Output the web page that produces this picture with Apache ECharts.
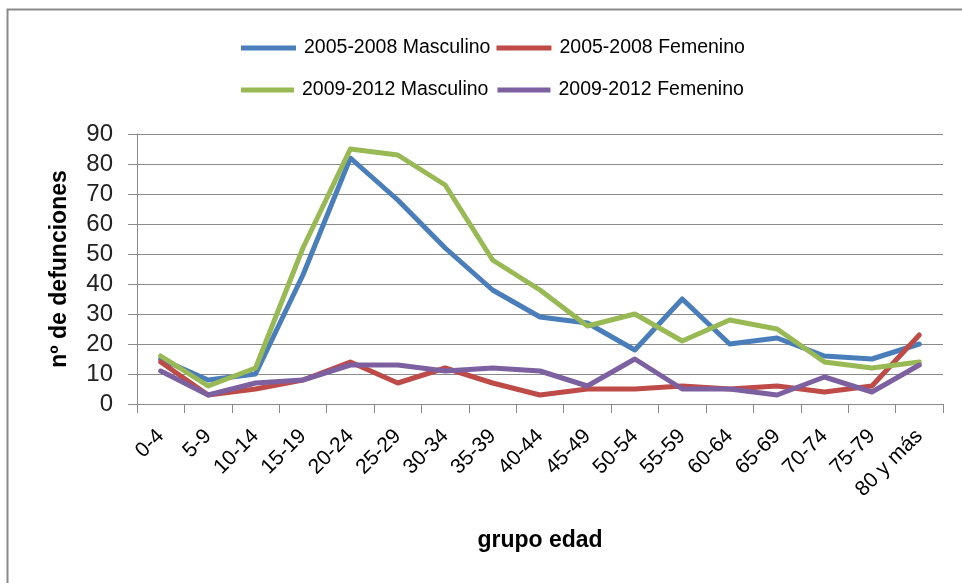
<!DOCTYPE html>
<html>
<head>
<meta charset="utf-8">
<script src="https://cdn.jsdelivr.net/npm/echarts@6/dist/echarts.min.js"></script>
<style>
html,body{margin:0;padding:0;background:#fff;}
#chart{width:962px;height:583px;}
</style>
</head>
<body>
<div id="chart"></div>
<script>
const categories = ['0-4','5-9','10-14','15-19','20-24','25-29','30-34','35-39','40-44','45-49','50-54','55-59','60-64','65-69','70-74','75-79','80 y más'];
const masc0508 = [15, 8, 10, 43, 82, 68, 52, 38, 29, 27, 18, 35, 20, 22, 16, 15, 20];
const fem0508  = [14, 3, 5, 8, 14, 7, 12, 7, 3, 5, 5, 6, 5, 6, 4, 6, 23];
const masc0912 = [16, 6, 12, 52, 85, 83, 73, 48, 38, 26, 30, 21, 28, 25, 14, 12, 14];
const fem0912  = [11, 3, 7, 8, 13, 13, 11, 12, 11, 6, 15, 5, 5, 3, 9, 4, 13];
const yTicks = {min: 0, max: 90, interval: 10};
const seriesNames = ['2005-2008 Masculino','2005-2008 Femenino','2009-2012 Masculino','2009-2012 Femenino'];
const seriesColors = ['#4A7EBB','#BE4B48','#98B954','#7D60A0'];
const seriesData = [masc0508, fem0508, masc0912, fem0912];

const FONT = 'Liberation Sans';
const chart = echarts.init(document.getElementById('chart'), null, {renderer: 'canvas'});
const legendText = {fontFamily: FONT, fontSize: 19.5, color: '#000', padding: [0, 0, 0, 3]};
chart.setOption({
  animation: false,
  backgroundColor: '#fff',
  graphic: [{
    type: 'rect', left: 5, top: 7,
    shape: {x: 0, y: 0, width: 1000, height: 700},
    style: {fill: 'none', stroke: '#8a8a8a', lineWidth: 2},
    silent: true
  }],
  legend: [{
    data: seriesNames.slice(0, 2),
    left: 236, top: 33,
    itemWidth: 55, itemHeight: 5, itemGap: 6,
    icon: 'rect',
    textStyle: legendText
  }, {
    data: seriesNames.slice(2, 4),
    left: 236, top: 75,
    itemWidth: 53, itemHeight: 5, itemGap: 9,
    icon: 'rect',
    textStyle: legendText
  }],
  grid: {left: 137, right: 19, top: 134, bottom: 179},
  xAxis: {
    type: 'category',
    data: categories,
    boundaryGap: true,
    name: 'grupo edad',
    nameLocation: 'middle',
    nameGap: 125,
    nameTextStyle: {fontFamily: FONT, fontSize: 23, fontWeight: 'bold', color: '#000'},
    axisLine: {lineStyle: {color: '#8a8a8a', width: 1}},
    axisTick: {show: true, length: 9, lineStyle: {color: '#8a8a8a'}},
    axisLabel: {rotate: 45, fontFamily: FONT, fontSize: 21, color: '#000', margin: 29, interval: 0}
  },
  yAxis: {
    type: 'value',
    min: yTicks.min, max: yTicks.max, interval: yTicks.interval,
    name: 'nº de defunciones',
    nameLocation: 'middle',
    nameRotate: 90,
    nameGap: 66,
    nameTextStyle: {fontFamily: FONT, fontSize: 23, fontWeight: 'bold', color: '#000'},
    axisLine: {show: true, lineStyle: {color: '#8a8a8a', width: 1}},
    axisTick: {show: true, length: 9, lineStyle: {color: '#8a8a8a'}},
    splitLine: {lineStyle: {color: '#8a8a8a', width: 1}},
    axisLabel: {fontFamily: FONT, fontSize: 24, color: '#222', margin: 24}
  },
  series: seriesNames.map((n, i) => ({
    name: n,
    type: 'line',
    data: seriesData[i],
    symbol: 'none',
    color: seriesColors[i],
    lineStyle: {width: 5, color: seriesColors[i], cap: 'round', join: 'round'}
  }))
});
</script>
</body>
</html>
